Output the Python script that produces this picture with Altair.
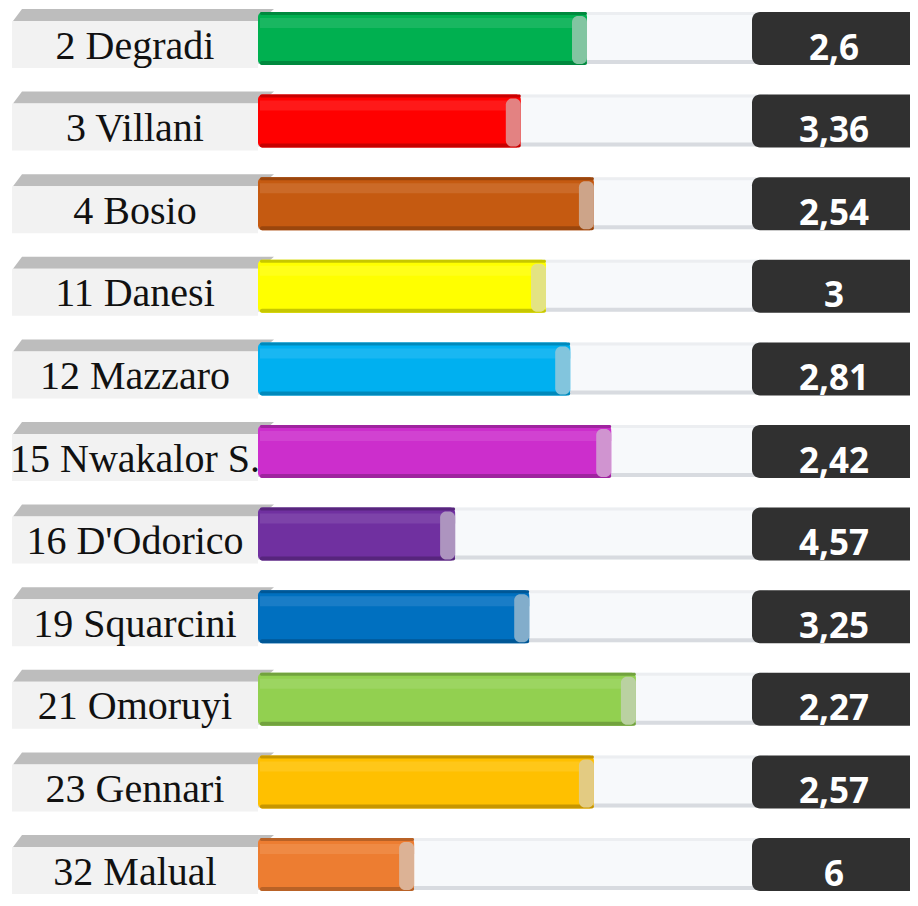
import altair as alt
import pandas as pd

# ---- data ----
players = ["2 Degradi", "3 Villani", "4 Bosio", "11 Danesi", "12 Mazzaro",
           "15 Nwakalor S.", "16 D'Odorico", "19 Squarcini", "21 Omoruyi",
           "23 Gennari", "32 Malual"]
values = [2.6, 3.36, 2.54, 3, 2.81, 2.42, 4.57, 3.25, 2.27, 2.57, 6]
# bar fill, in percent of the track length
bar_fill = [66.6, 53.2, 68.0, 58.3, 63.2, 71.5, 39.9, 54.9, 76.5, 68.0, 31.6]
colors = ["#00b050", "#ff0000", "#c55a11", "#ffff00", "#00b0f0", "#cc2ecc",
          "#7030a0", "#0070c0", "#92d050", "#ffc000", "#ed7d31"]

# ---- layout helpers (styling only) ----
W, H = 902, 890
PXU = 4.94       # pixels per track unit
ROW = 82.6       # pixels per row
X0 = -250 / PXU
X1 = X0 + W / PXU
Y0 = -4 / ROW
Y1 = Y0 + H / ROW


def ux(page_x):
    return (page_x - 258) / PXU


def ry(rel):
    return rel / ROW


def mix(c1, c2, t):
    a = [int(c1[i:i + 2], 16) for i in (1, 3, 5)]
    b = [int(c2[i:i + 2], 16) for i in (1, 3, 5)]
    m = [round(a[k] * (1 - t) + b[k] * t) for k in range(3)]
    return "#%02x%02x%02x" % tuple(m)


rows = []
for i, (p, v, f, c) in enumerate(zip(players, values, bar_fill, colors)):
    rows.append(dict(
        row=i, label=p, vtxt=("%g" % v).replace(".", ","), fill=f, col=c,
        dark=mix(c, "#000000", 0.22), light=mix(c, "#ffffff", 0.12),
        cap=mix(c, "#d2d2d2", 0.62), cap_x=f - 15 / PXU,
    ))
df = pd.DataFrame(rows)
for name, rel in [("y0", 0), ("y2", 2), ("y3", 3), ("y4", 4), ("y6", 6),
                  ("y9", 9), ("y16", 16), ("y47", 47), ("y48", 48),
                  ("y49", 49), ("y50", 50), ("y52", 52), ("y53", 53),
                  ("y56", 56), ("ylab", 46.5), ("yval", 47.5)]:
    df[name] = df["row"] + ry(rel)

tab_rows = []
for i in range(len(players)):
    tab_rows.append(dict(row=i, ty=i + ry(-3), tx=ux(22), tx2=ux(274)))
    tab_rows.append(dict(row=i, ty=i + ry(9), tx=ux(13), tx2=ux(260)))
tab = pd.DataFrame(tab_rows)

xs = alt.Scale(domain=[X0, X1])
ys = alt.Scale(domain=[Y0, Y1], reverse=True)


def X(f):
    return alt.X(f, type="quantitative", scale=xs, axis=None)


def Y(f):
    return alt.Y(f, type="quantitative", scale=ys, axis=None)


base = alt.Chart(df)
colid = alt.Color("col:N", scale=None, legend=None)

tab_layer = alt.Chart(tab).mark_area(orient="horizontal", color="#bdbdbd").encode(
    y=Y("ty"), x=X("tx"), x2="tx2", detail="row:N")

label_box = base.mark_rect(color="#f2f2f2").encode(
    x=X("lx"), x2="lx2", y=Y("y9"), y2="y56"
).transform_calculate(lx=str(ux(12)), lx2="0")

track = base.mark_rect(color="#f7f9fb").encode(
    x=alt.value(250), x2=alt.value(760), y=Y("y0"), y2="y52")
track_top = base.mark_rect(color="#eceef1").encode(
    x=alt.value(250), x2=alt.value(760), y=Y("y0"), y2="y3")
track_bot = base.mark_rect(color="#d8dbe0").encode(
    x=alt.value(250), x2=alt.value(760), y=Y("y48"), y2="y52")

bar = base.mark_rect(cornerRadius=5).encode(
    x=X("zero"), x2="fill", y=Y("y0"), y2="y53",
    color=colid).transform_calculate(zero="0")
bar_top = base.mark_rect(cornerRadius=3).encode(
    x=X("zero"), x2="fill", y=Y("y0"), y2="y3",
    color=alt.Color("dark:N", scale=None)).transform_calculate(zero="0.4")
bar_hi = base.mark_rect(opacity=0.8).encode(
    x=X("zero"), x2="fill", y=Y("y6"), y2="y16",
    color=alt.Color("light:N", scale=None)).transform_calculate(zero="0.4")
bar_bot = base.mark_rect(cornerRadius=3).encode(
    x=X("zero"), x2="fill", y=Y("y49"), y2="y53",
    color=alt.Color("dark:N", scale=None)).transform_calculate(zero="0.4")
cap = base.mark_rect(cornerRadius=6).encode(
    x=X("cap_x"), x2="fill", y=Y("y4"), y2="y52",
    color=alt.Color("cap:N", scale=None))

dark_box = base.mark_rect(color="#303030", cornerRadius=8).encode(
    x=X("bx"), x2="bx2", y=Y("y0"), y2="y53"
).transform_calculate(bx=str(ux(752)), bx2=str(ux(930)))

val_text = base.mark_text(font="Open Sans", fontWeight="bold", fontSize=35,
                          color="white", align="center",
                          baseline="alphabetic").encode(
    x=X("vx"), y=Y("yval"), text="vtxt:N"
).transform_calculate(vx=str(ux(834)))

lab_text = base.mark_text(font="Liberation Serif", fontSize=40,
                          color="#111111", align="center",
                          baseline="alphabetic").encode(
    x=X("tx"), y=Y("ylab"), text="label:N"
).transform_calculate(tx=str(ux(135)))

chart = alt.layer(
    track, track_top, track_bot, tab_layer, label_box, bar, bar_hi, bar_top,
    bar_bot, cap, dark_box, val_text, lab_text
).properties(
    width=W, height=H, padding=0,
    autosize=alt.AutoSizeParams(type="none"),
    background="white",
).configure_view(stroke=None)

chart.save("out.html", embed_options={"renderer": "svg", "actions": False})
